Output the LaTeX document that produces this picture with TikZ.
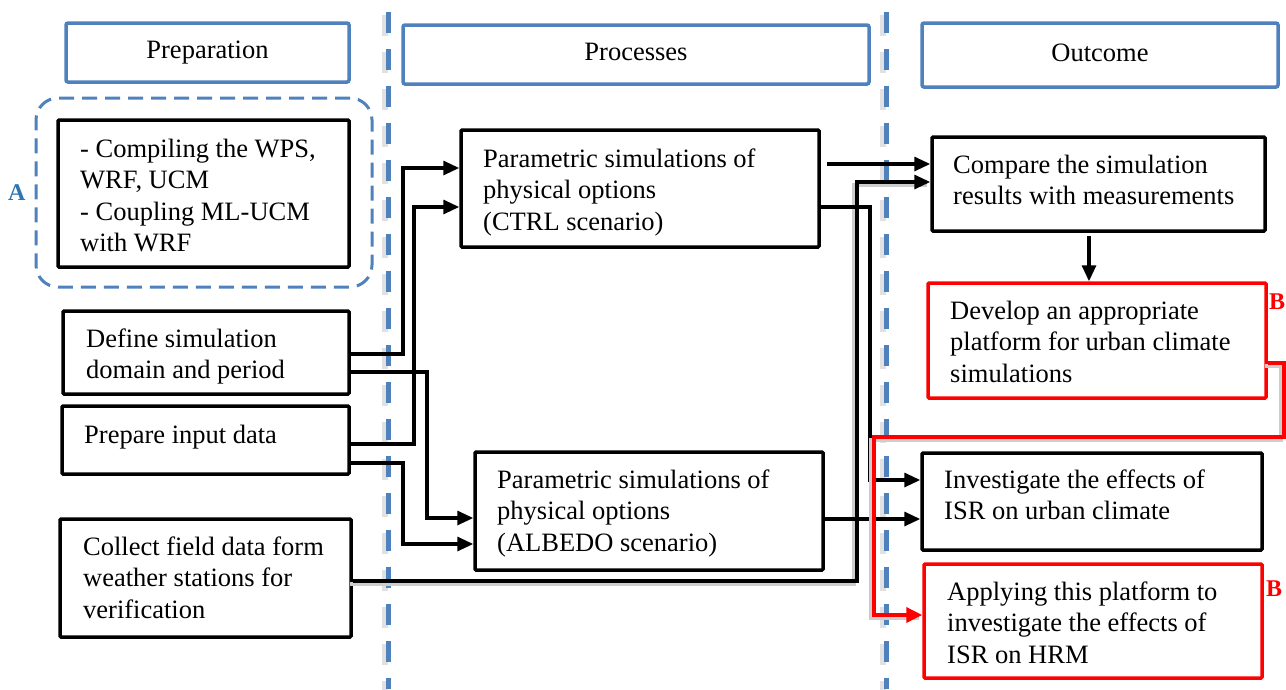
\documentclass[tikz,border=0pt]{standalone}
\usepackage{fontspec}
\setmainfont{Liberation Serif}
\usetikzlibrary{arrows.meta}
\definecolor{hdrblue}{RGB}{79,129,189}
\definecolor{lblblue}{RGB}{46,117,182}
\definecolor{shade}{RGB}{205,205,205}
\newcommand\fsz{\fontsize{26.5}{31.5}\selectfont}
\begin{document}
\begin{tikzpicture}[x=1pt,y=-1pt,
  hdr/.style={draw=hdrblue,line width=3.5pt,rounded corners=2pt,inner sep=0pt,
    text height=18pt,text depth=6pt,font=\fsz},
  bbox/.style={draw=black,line width=3.5pt,rounded corners=1pt,inner sep=0pt},
  rbox/.style={draw=red,line width=3.5pt,rounded corners=1pt,inner sep=0pt},
  txt/.style={font=\fsz,align=left,inner sep=0pt,anchor=north west},
  conn/.style={draw=black,line width=3.2pt},
  arr/.style={conn,-{Triangle[length=16pt,width=14pt]}},
  rarr/.style={draw=red,line width=3.5pt,-{Triangle[length=16pt,width=15pt]}},
  shadowed/.style={preaction={draw=shade,line width=4pt,-,
    transform canvas={xshift=-3pt,yshift=-3pt}}},
  lane/.style={draw=hdrblue,line width=5pt,dash pattern=on 21pt off 16pt},
  laneshade/.style={draw=shade!60,line width=6pt,dash pattern=on 21pt off 16pt},
  tag/.style={font=\fontsize{24}{28}\selectfont\bfseries,inner sep=0pt,anchor=base west}]
\useasboundingbox (0,0) rectangle (1286,689);

% lane separators
\coordinate (l1t) at (388,12);  \coordinate (l1b) at (388,689);
\coordinate (l2t) at (886,12);  \coordinate (l2b) at (886,689);
\draw[laneshade] (385,15) -- (385,692);
\draw[laneshade] (883,15) -- (883,692);
\draw[lane] (l1t) -- (l1b);
\draw[lane] (l2t) -- (l2b);

% column headers
\node[hdr,minimum width=283pt,minimum height=59pt] (hprep) at (207.5,52.5) {Preparation};
\node[hdr,minimum width=466pt,minimum height=59pt] (hproc) at (636,54.5) {Processes};
\node[hdr,minimum width=356pt,minimum height=64pt] (hout) at (1100,55) {Outcome};

% group A
\node[draw=hdrblue,line width=3pt,dash pattern=on 15pt off 8pt,rounded corners=22pt,
  minimum width=336pt,minimum height=189pt,inner sep=0pt] (grpA) at (204,192.5) {};
\node[tag,text=lblblue] (labA) at (8,200) {A};

% preparation boxes
\node[bbox,minimum width=291pt,minimum height=147pt] (comp) at (203.5,193.5) {};
\node[txt] (compt) at (80,134.95) {\strut- Compiling the WPS,\\WRF, UCM\\- Coupling ML-UCM\\with WRF};
\node[bbox,minimum width=286pt,minimum height=83pt] (def) at (206,352.5) {};
\node[txt] (deft) at (86,324.95) {\strut Define simulation\\domain and period};
\node[bbox,minimum width=287pt,minimum height=68pt] (prep) at (205.5,440) {};
\node[txt] (prept) at (84,420.95) {\strut Prepare input data};
\node[bbox,minimum width=291pt,minimum height=118pt] (coll) at (205.5,578) {};
\node[txt] (collt) at (83,532.95) {\strut Collect field data form\\weather stations for\\verification};

% process boxes
\node[bbox,minimum width=358pt,minimum height=117pt] (ctrl) at (640,188.5) {};
\node[txt] (ctrlt) at (483,144.95) {\strut Parametric simulations of\\physical options\\(CTRL scenario)};
\node[bbox,minimum width=348pt,minimum height=118pt] (alb) at (649,511) {};
\node[txt] (albt) at (497,465.95) {\strut Parametric simulations of\\physical options\\(ALBEDO scenario)};

% outcome boxes
\node[bbox,minimum width=333pt,minimum height=94pt] (cmp) at (1098.5,184) {};
\node[txt] (cmpt) at (953,150.95) {\strut Compare the simulation\\results with measurements};
\node[rbox,minimum width=338pt,minimum height=115pt] (dev) at (1097,340.5) {};
\node[txt] (devt) at (950,296.95) {\strut Develop an appropriate\\platform for urban climate\\simulations};
\node[bbox,minimum width=340pt,minimum height=97pt] (inv) at (1092,501.5) {};
\node[txt] (invt) at (944,465.95) {\strut Investigate the effects of\\ISR on urban climate};
\node[rbox,minimum width=338pt,minimum height=114pt] (app) at (1093,621) {};
\node[txt] (appt) at (947,577.95) {\strut Applying this platform to\\investigate the effects of\\ISR on HRM};
\node[tag,text=red] (labB1) at (1269,309) {B};
\node[tag,text=red] (labB2) at (1266,596) {B};

% connectors
\draw[arr] (def.east |- 0,354) -- (403,354) |- (ctrl.west |- 0,168);
\draw[arr] (prep.east |- 0,444) -- (414,444) |- (ctrl.west |- 0,207);
\draw[arr] (def.east |- 0,372) -- (427,372) |- (alb.west |- 0,518);
\draw[arr] (prep.east |- 0,463) -- (403,463) |- (alb.west |- 0,544);
\draw[arr,shadowed] (coll.east |- 0,581) -- (857,581) |- (cmp.west |- 0,182);
\draw[arr,shorten <=6pt] (ctrl.east |- 0,164) -- (cmp.west |- 0,164);
\draw[arr] (ctrl.east |- 0,207) -- (870,207) |- (inv.west |- 0,480);
\draw[arr] (alb.east |- 0,519) -- (inv.west |- 0,519);
\draw[arr,shorten <=3pt] (cmp.south -| 1089,0) -- (dev.north -| 1089,0);
\draw[rarr,shadowed] (dev.east |- 0,363) -- (1284,363) -- (1284,437) -- (874,437) |- (app.west |- 0,615);
\end{tikzpicture}
\end{document}
